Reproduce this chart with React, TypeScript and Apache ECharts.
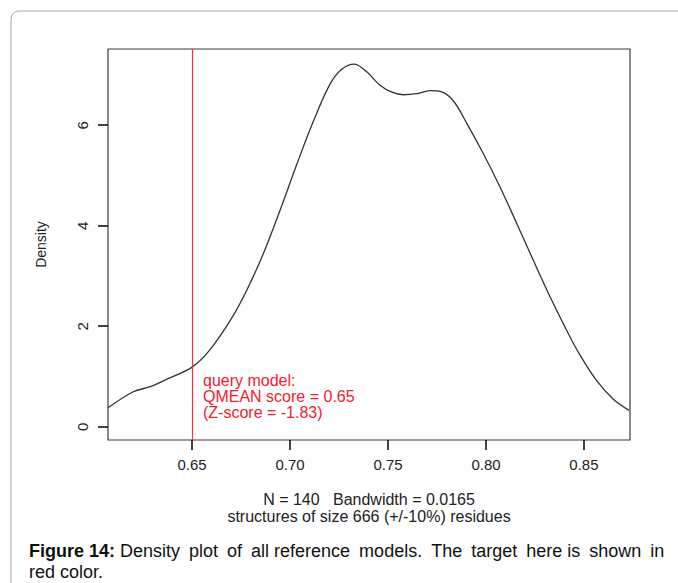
import React, { useEffect, useRef } from "react";
import * as echarts from "echarts";

// Density curve
const densityX = [
  0.6071, 0.62, 0.6286, 0.6371, 0.65, 0.6592, 0.6703, 0.6779, 0.6864, 0.6949,
  0.7034, 0.7119, 0.7204, 0.7265, 0.7327, 0.739, 0.7459, 0.752, 0.7578, 0.7645,
  0.7714, 0.777, 0.7833, 0.7902, 0.7986, 0.8071, 0.8157, 0.8241, 0.8327, 0.8429,
  0.848, 0.8565, 0.865, 0.873,
];
const densityY = [
  0.38, 0.7, 0.8, 0.95, 1.19, 1.54, 2.17, 2.72, 3.45, 4.31,
  5.22, 6.08, 6.82, 7.12, 7.22, 7.07, 6.8, 6.66, 6.61, 6.63,
  6.69, 6.67, 6.49, 6.04, 5.44, 4.78, 4.05, 3.32, 2.59, 1.79,
  1.43, 0.92, 0.55, 0.33,
];
const xTicks = [0.65, 0.7, 0.75, 0.8, 0.85];
const yTicks = [0, 2, 4, 6];
const xRange = [0.6071, 0.8735];
const yRange = [-0.26, 7.52];
const queryScore = [0.65];
const annotationLines = ["query model:", "QMEAN score = 0.65", "(Z-score = -1.83)"];
const subtitleLines = [
  "N = 140   Bandwidth = 0.0165",
  "structures of size 666 (+/-10%) residues",
];
const captionBold = "Figure 14:";
const captionWords1 = [
  "Density", "plot", "of", "all", "reference", "models.", "The", "target",
  "here", "is", "shown", "in",
];
const captionLine2 = "red color.";

export default function App() {
  const ref = useRef<HTMLDivElement>(null);
  useEffect(() => {
    const chart = echarts.init(ref.current!, null, { renderer: "svg" });
    const font = "'Liberation Sans', Arial, Helvetica, sans-serif";
    // justified first caption line: wider (en) spaces between most words
    const EN = "\u2002";
    const line1 = captionWords1
      .map((w, i) => (i === 0 ? w : (i === 4 || i === 9 ? " " : EN) + w))
      .join("");
    const frame = "#3a3a3a";
    const tickColor = "#111";
    const baseGraphics: any[] = [
      {
        type: "rect",
        z: -10,
        silent: true,
        shape: { x: 11, y: 11, width: 720, height: 640, r: 8 },
        style: { fill: null, stroke: "#a8a8a8", lineWidth: 1 },
      },
      {
        type: "text",
        x: 203,
        y: 372,
        style: {
          text: annotationLines.join("\n"),
          fill: "#f0202e",
          fontFamily: font,
          fontSize: 16,
          lineHeight: 16,
        },
      },
      {
        type: "text",
        x: 369,
        y: 499,
        style: {
          text: subtitleLines[0],
          fill: "#222",
          fontFamily: font,
          fontSize: 16,
          align: "center",
          verticalAlign: "middle",
        },
      },
      {
        type: "text",
        x: 369,
        y: 516,
        style: {
          text: subtitleLines[1],
          fill: "#222",
          fontFamily: font,
          fontSize: 16,
          align: "center",
          verticalAlign: "middle",
        },
      },
      {
        type: "text",
        x: 29,
        y: 551,
        style: {
          text: "{b|" + captionBold + "} " + line1,
          fill: "#111",
          fontFamily: font,
          fontSize: 18,
          verticalAlign: "middle",
          rich: { b: { fontWeight: "bold", fontFamily: font, fontSize: 18, fill: "#111" } },
        },
      },
      {
        type: "text",
        x: 29,
        y: 572,
        style: {
          text: captionLine2,
          fill: "#111",
          fontFamily: font,
          fontSize: 18,
          verticalAlign: "middle",
        },
      },
    ];
    chart.setOption({
      animation: false,
      backgroundColor: "#ffffff",
      grid: {
        left: 108,
        top: 49,
        width: 522,
        height: 391,
        show: true,
        borderColor: frame,
        borderWidth: 1.2,
        backgroundColor: "transparent",
      },
      xAxis: {
        type: "value",
        position: "bottom",
        min: xRange[0],
        max: xRange[1],
        axisLine: { show: false, onZero: false },
        splitLine: { show: false },
        axisTick: { show: false },
        axisLabel: {
          customValues: xTicks,
          formatter: (v: number) => v.toFixed(2),
          color: "#222",
          fontFamily: font,
          fontSize: 15,
          margin: 17,
        },
      },
      yAxis: {
        type: "value",
        position: "left",
        min: yRange[0],
        max: yRange[1],
        name: "Density",
        nameLocation: "middle",
        nameGap: 60,
        nameTextStyle: { color: "#222", fontFamily: font, fontSize: 14 },
        axisLine: { show: false, onZero: false },
        splitLine: { show: false },
        axisTick: { show: false },
        axisLabel: {
          customValues: yTicks,
          formatter: (v: number) => String(v),
          rotate: 90,
          color: "#222",
          fontFamily: font,
          fontSize: 15,
          margin: 18,
        },
      },
      series: [
        {
          type: "line",
          data: densityX.map((x, i) => [x, densityY[i]]),
          smooth: 0.35,
          showSymbol: false,
          lineStyle: { color: "#333", width: 1.3 },
          markLine: {
            silent: true,
            symbol: "none",
            label: { show: false },
            lineStyle: { color: "#ee3340", type: "solid", width: 1.2 },
            data: queryScore.map((v) => ({ xAxis: v })),
          },
        },
      ],
      graphic: baseGraphics,
    });

    // tick marks placed through the chart's own scales
    const tickGraphics: any[] = [];
    xTicks.forEach((v) => {
      const p = chart.convertToPixel({ gridIndex: 0 }, [v, yRange[0]]) as number[];
      const x = Math.round(p[0]);
      tickGraphics.push({
        type: "line",
        silent: true,
        z: 20,
        shape: { x1: x, y1: p[1], x2: x, y2: p[1] + 10 },
        style: { stroke: tickColor, lineWidth: 1.6 },
      });
    });
    yTicks.forEach((v) => {
      const p = chart.convertToPixel({ gridIndex: 0 }, [xRange[0], v]) as number[];
      const y = Math.round(p[1]);
      tickGraphics.push({
        type: "line",
        silent: true,
        z: 20,
        shape: { x1: p[0], y1: y, x2: p[0] - 10, y2: y },
        style: { stroke: tickColor, lineWidth: 1.6 },
      });
    });
    chart.setOption({ graphic: baseGraphics.concat(tickGraphics) });
    return () => chart.dispose();
  }, []);
  return (
    <div
      ref={ref}
      style={{ position: "fixed", left: 0, top: 0, width: 678, height: 583 }}
    />
  );
}
